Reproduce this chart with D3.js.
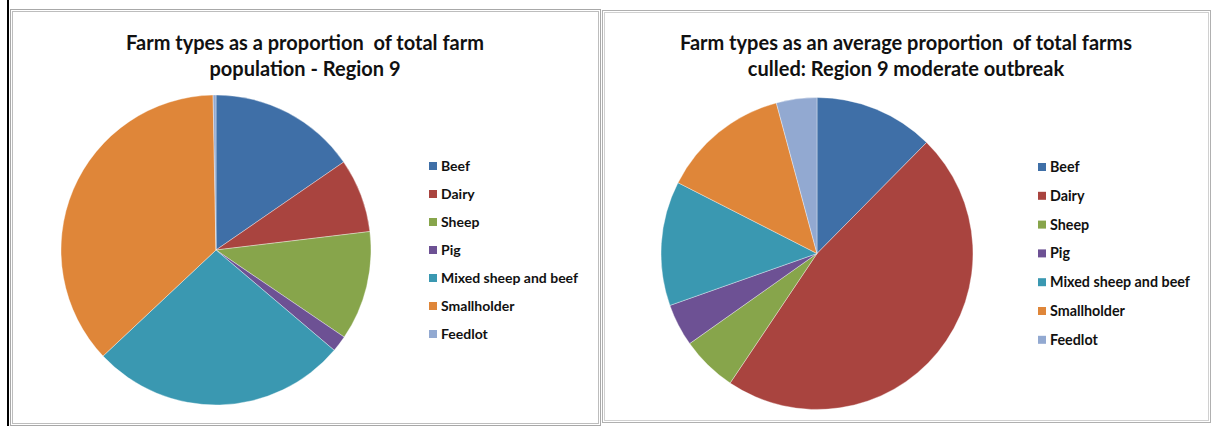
<!DOCTYPE html>
<html>
<head>
<meta charset="utf-8">
<script src="https://cdn.jsdelivr.net/npm/d3@7"></script>
<style>
  html, body { margin: 0; padding: 0; background: #fff; }
  svg { display: block; }
  text { font-family: Lato, "Open Sans", sans-serif; fill: #111; }
</style>
</head>
<body>
<svg id="chart" width="1212" height="426"></svg>
<script>
// Farm type categories (shared by both charts)
const categories = ["Beef", "Dairy", "Sheep", "Pig", "Mixed sheep and beef", "Smallholder", "Feedlot"];
// Share of total farm population, Region 9 (%)
const populationShare = [15.4, 7.7, 11.4, 1.7, 26.8, 36.7, 0.3];
// Average share of total farms culled, Region 9 moderate outbreak (%)
const culledShare = [12.4, 47.0, 5.8, 4.4, 12.9, 13.3, 4.2];
// Slice colours, one per category
const sliceColors = ["#3f6fa7", "#a9443f", "#87a54b", "#6d5194", "#3a98b1", "#df8639", "#92a9d1"];
// Chart titles
const leftTitle = ["Farm types as a proportion  of total farm", "population - Region 9"];
const rightTitle = ["Farm types as an average proportion  of total farms", "culled: Region 9 moderate outbreak"];

const svg = d3.select("#chart");
const color = d3.scaleOrdinal().domain(categories).range(sliceColors);

// page edge line
svg.append("rect").attr("x", 7).attr("y", 0).attr("width", 2).attr("height", 426).attr("fill", "#000");

function panel(x, y, w, h, outer, inner) {
  svg.append("rect").attr("x", x + 0.5).attr("y", y + 0.5).attr("width", w - 1).attr("height", h - 1)
    .attr("fill", "#fff").attr("stroke", outer).attr("stroke-width", 1);
  svg.append("rect").attr("x", x + 2.5).attr("y", y + 2.5).attr("width", w - 5).attr("height", h - 5)
    .attr("fill", "none").attr("stroke", inner).attr("stroke-width", 1);
}

function drawChart(opts) {
  const g = svg.append("g");
  // title
  const t = g.append("text").attr("text-anchor", "middle")
    .attr("font-size", 20).attr("font-weight", "bold");
  opts.title.forEach((line, i) => {
    t.append("tspan").attr("x", opts.titleX).attr("y", opts.titleY + i * 26).text(line)
      .style("white-space", "pre");
  });

  // pie
  const pie = d3.pie().sort(null).value(d => d.value).startAngle(0).endAngle(2 * Math.PI);
  const arc = d3.arc().innerRadius(0).outerRadius(opts.r);
  const data = categories.map((c, i) => ({ name: c, value: opts.values[i] }));
  g.append("g").attr("transform", `translate(${opts.cx},${opts.cy})`)
    .selectAll("path").data(pie(data)).join("path")
    .attr("d", arc)
    .attr("fill", d => color(d.data.name))
    .attr("stroke", "rgba(255,255,255,0.45)")
    .attr("stroke-width", 0.8);

  // legend
  const lg = g.append("g");
  const rows = lg.selectAll("g").data(categories).join("g")
    .attr("transform", (d, i) => `translate(${opts.legX},${opts.legY + i * opts.legStep})`);
  rows.append("rect").attr("x", 0).attr("y", -4).attr("width", 8).attr("height", 8)
    .attr("fill", d => color(d));
  rows.append("text").attr("x", 12).attr("y", 5)
    .attr("font-size", opts.legFont).attr("font-weight", "bold").text(d => d);
}

panel(10, 9, 591, 417, "#a8a8a8", "#bdbdbd");
panel(602, 10, 609, 413, "#b0b0b0", "#d0d0d0");

drawChart({
  title: leftTitle, titleX: 305, titleY: 50,
  values: populationShare, cx: 216, cy: 250, r: 155,
  legX: 429, legY: 166, legStep: 28, legFont: 14
});
drawChart({
  title: rightTitle, titleX: 906, titleY: 50,
  values: culledShare, cx: 817, cy: 253.5, r: 156,
  legX: 1038, legY: 167, legStep: 28.8, legFont: 14.3
});
</script>
</body>
</html>
